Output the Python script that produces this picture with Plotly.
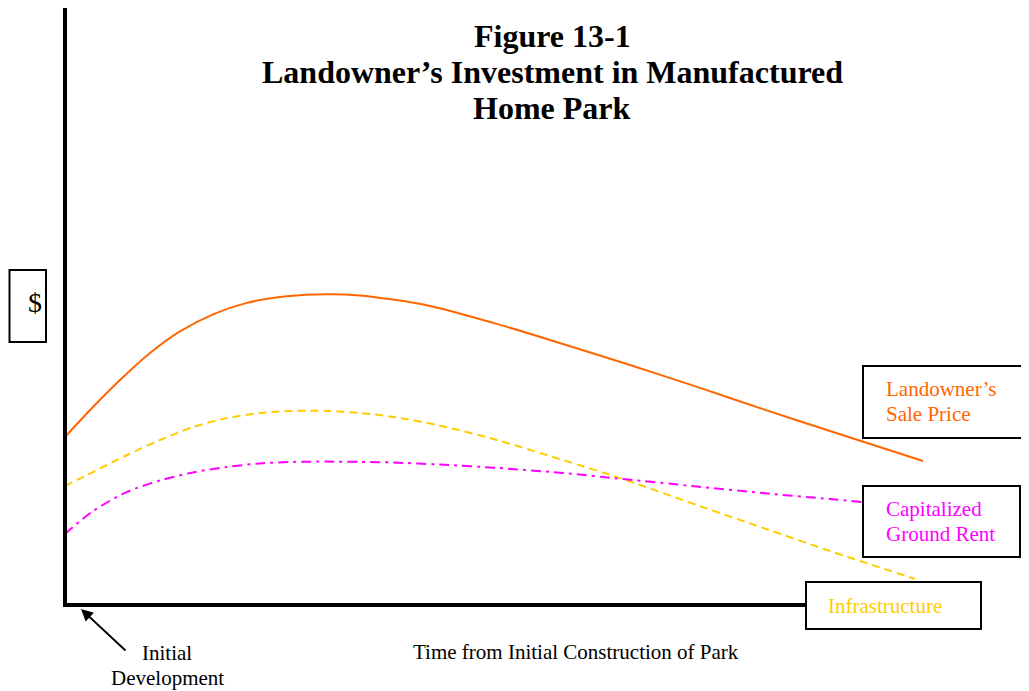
import plotly.graph_objects as go

# Time from initial construction (arbitrary units) and $ values (arbitrary units)
t_sale = [0, 3.26, 6.41, 9.91, 13.40, 17.25, 21.21, 25.87, 30.54, 34.38, 38.23, 42.54, 50.35, 58.04, 65.85, 73.66, 81.35, 89.16, 100]
v_sale = [56.0, 66.0, 75.0, 84.0, 91.2, 96.9, 100.7, 102.9, 103.6, 103.2, 101.8, 99.7, 93.7, 87.0, 80.0, 72.7, 65.3, 58.0, 48.0]

t_infra = [0, 3.26, 7.23, 11.07, 14.92, 18.88, 22.73, 26.57, 30.54, 34.38, 38.23, 43.36, 50.35, 58.04, 65.03, 73.66, 81.35, 89.16, 99.07]
v_infra = [39.7, 44.3, 50.0, 55.0, 59.3, 62.3, 64.0, 64.7, 64.7, 64.0, 62.7, 60.0, 55.0, 48.3, 42.0, 33.3, 25.7, 18.0, 8.7]

t_rent = [0, 3.26, 7.23, 11.07, 14.92, 18.88, 22.73, 26.57, 30.54, 34.38, 38.23, 43.71, 50.35, 58.04, 65.03, 73.66, 81.35, 89.16, 93.0]
v_rent = [23.7, 31.3, 37.7, 41.5, 44.2, 46.0, 47.2, 47.7, 47.8, 47.7, 47.5, 46.8, 45.7, 44.0, 42.0, 39.5, 37.3, 35.3, 34.3]

title_lines = ["Figure 13-1", "Landowner’s Investment in Manufactured", "Home Park"]

W, H = 1029, 691
OFF = 8  # default page margin of the html body
X0PX, Y0PX, PXT, PXV = 65, 605, 8.58, 3.0


def X(px):
    return (px - X0PX) / PXT


def Y(py):
    return (Y0PX - py) / PXV


SERIF = "Liberation Serif, Times New Roman, serif"
ORANGE = "#FF6600"
GOLD = "#FFCC00"
MAGENTA = "#FF00FF"

fig = go.Figure()
fig.add_trace(go.Scatter(x=t_sale, y=v_sale, mode="lines",
                         line=dict(color=ORANGE, width=2, shape="spline", smoothing=0.8), hoverinfo="skip"))
fig.add_trace(go.Scatter(x=t_infra, y=v_infra, mode="lines",
                         line=dict(color=GOLD, width=2, shape="spline", smoothing=0.8, dash="8px,5px"),
                         hoverinfo="skip"))
fig.add_trace(go.Scatter(x=t_rent, y=v_rent, mode="lines",
                         line=dict(color=MAGENTA, width=2, shape="spline", smoothing=0.8,
                                   dash="10px,5px,3px,5px"),
                         hoverinfo="skip"))

shapes = []
# axes
shapes.append(dict(type="line", x0=X(65), x1=X(65), y0=Y(5), y1=Y(607), line=dict(color="black", width=4)))
shapes.append(dict(type="line", x0=X(63), x1=X(806), y0=Y(605), y1=Y(605), line=dict(color="black", width=4)))


def box(x0, y0, x1, y1):
    shapes.append(dict(type="rect", x0=X(x0), x1=X(x1), y0=Y(y0), y1=Y(y1),
                       line=dict(color="black", width=2), fillcolor="rgba(0,0,0,0)"))


box(9.5, 270, 46, 342)
box(863, 366, 1027, 438)
box(863, 486, 1020, 557)
box(806, 582, 981, 629)

ann = []


def text(px, py, s, color="black", size=21, xanchor="center", bold=False):
    ann.append(dict(x=X(px), y=Y(py), text=("<b>%s</b>" % s) if bold else s, showarrow=False,
                    xanchor=xanchor, yanchor="middle",
                    font=dict(family=SERIF, size=size, color=color)))


for i, line in enumerate(title_lines):
    text(552, 36 + 36 * i, line, size=32, bold=True)

text(35, 302, "$", size=28)
text(884, 389, "Landowner’s", color=ORANGE, xanchor="left")
text(884, 414, "Sale Price", color=ORANGE, xanchor="left")
text(884, 509, "Capitalized", color=MAGENTA, xanchor="left")
text(884, 534, "Ground Rent", color=MAGENTA, xanchor="left")
text(826, 606, "Infrastructure", color=GOLD, xanchor="left")
text(167, 653, "Initial")
text(167, 678, "Development")
text(576, 652, "Time from Initial Construction of Park")

ann.append(dict(x=X(81), y=Y(609), ax=X(127), ay=Y(652), axref="x", ayref="y", xref="x", yref="y",
                text="", showarrow=True, arrowhead=2, arrowsize=1.2, arrowwidth=2, arrowcolor="black"))

fig.update_layout(
    width=W - OFF, height=H - OFF, margin=dict(l=0, r=0, t=0, b=0, pad=0),
    paper_bgcolor="white", plot_bgcolor="white", showlegend=False,
    xaxis=dict(range=[X(OFF), X(W)], visible=False, fixedrange=True),
    yaxis=dict(range=[Y(H), Y(OFF)], visible=False, fixedrange=True),
    shapes=shapes, annotations=ann, hovermode=False,
)

fig.write_html("out.html", config={"displayModeBar": False})
